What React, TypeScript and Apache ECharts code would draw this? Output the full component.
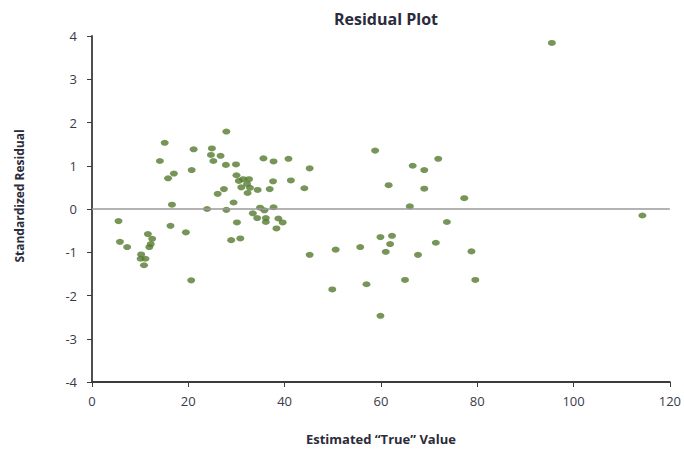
import React, { useEffect, useRef } from "react";
import * as echarts from "echarts";

const estimatedValues: number[] = [
  5.5, 5.8, 7.3, 10.2, 10.1, 11.1, 10.8, 11.6, 12.5, 12.2, 11.9, 14.1, 15.1, 15.8, 17.0, 16.6, 16.3, 19.5, 20.6, 20.7,
  21.1, 23.9, 24.9, 24.7, 26.7, 25.2, 27.9, 27.8, 29.9, 26.1, 27.4, 27.9, 29.4, 30.0, 30.5, 31.4, 32.6, 31.0, 32.2, 32.8,
  32.3, 34.4, 36.9, 37.6, 41.3, 35.6, 37.7, 40.8, 34.9, 35.8, 37.7, 33.4, 34.3, 36.1, 36.1, 38.7, 39.6, 38.3, 30.1, 28.9,
  30.8, 44.1, 45.2, 45.2, 50.6, 49.9, 55.7, 57.0, 58.8, 59.9, 62.3, 61.9, 61.0, 59.9, 61.6, 65.0, 66.0, 66.6, 69.0, 69.0,
  67.7, 71.9, 71.4, 73.7, 77.3, 78.8, 79.6, 95.5, 114.3,
];

const standardizedResiduals: number[] = [
  -0.28, -0.76, -0.88, -1.05, -1.15, -1.15, -1.3, -0.58, -0.69, -0.81, -0.88, 1.11, 1.53, 0.71, 0.82, 0.1, -0.39, -0.54, -1.65, 0.9,
  1.38, 0.0, 1.4, 1.25, 1.23, 1.11, 1.79, 1.02, 1.03, 0.35, 0.46, -0.02, 0.15, 0.78, 0.65, 0.69, 0.69, 0.5, 0.58, 0.49,
  0.37, 0.44, 0.46, 0.64, 0.66, 1.17, 1.1, 1.16, 0.03, -0.03, 0.04, -0.1, -0.21, -0.21, -0.3, -0.22, -0.31, -0.45, -0.31, -0.72,
  -0.68, 0.48, 0.94, -1.06, -0.94, -1.86, -0.88, -1.74, 1.35, -0.65, -0.62, -0.81, -0.99, -2.47, 0.55, -1.64, 0.06, 1.0, 0.9, 0.47,
  -1.06, 1.16, -0.78, -0.3, 0.25, -0.98, -1.64, 3.84, -0.15,
];

const titleText = "Residual Plot";
const xAxisTitle = "Estimated \u201CTrue\u201D Value";
const yAxisTitle = "Standardized Residual";

export default function App() {
  const ref = useRef<HTMLDivElement>(null);

  useEffect(() => {
    if (!ref.current) return;
    const chart = echarts.init(ref.current, undefined, { renderer: "svg" });
    const points = estimatedValues.map((x, i) => [x, standardizedResiduals[i]]);
    const font = "'Open Sans', 'Noto Sans', sans-serif";
    const axisColor = "#3c3c3c";
    chart.setOption({
      animation: false,
      backgroundColor: "#ffffff",
      title: {
        text: titleText,
        left: 381,
        top: 6,
        textAlign: "center",
        textStyle: { fontFamily: font, fontSize: 16, fontWeight: "bold", color: "#2b2b3a" },
      },
      grid: { left: 92, right: 12, top: 36, bottom: 63, containLabel: false },
      xAxis: {
        type: "value",
        min: 0,
        max: 120,
        interval: 20,
        name: xAxisTitle,
        nameLocation: "middle",
        nameGap: 50,
        nameTextStyle: { fontFamily: font, fontSize: 13, fontWeight: "bold", color: "#2b2b3a" },
        axisLine: { show: true, onZero: false, lineStyle: { color: axisColor, width: 1.8 } },
        axisTick: { show: true, inside: false, length: 5, lineStyle: { color: axisColor } },
        axisLabel: { margin: 12, fontFamily: font, fontSize: 13, color: "#3a3a4a" },
        splitLine: { show: false },
      },
      yAxis: {
        type: "value",
        min: -4,
        max: 4,
        interval: 1,
        axisLine: { show: true, onZero: false, lineStyle: { color: axisColor, width: 1.8 } },
        axisTick: { show: true, inside: false, length: 5, lineStyle: { color: axisColor } },
        axisLabel: { margin: 15, fontFamily: font, fontSize: 13, color: "#3a3a4a" },
        splitLine: { show: false },
      },
      graphic: [
        {
          type: "text",
          x: 19,
          y: 196,
          rotation: Math.PI / 2,
          style: {
            text: yAxisTitle,
            fontFamily: font,
            fontSize: 12,
            fontWeight: "bold",
            fill: "#2b2b3a",
            align: "center",
            verticalAlign: "middle",
          },
        },
      ],
      series: [
        {
          type: "scatter",
          data: points,
          symbol: "circle",
          symbolSize: [8, 6],
          itemStyle: { color: "#557a2f" },
          markLine: {
            silent: true,
            symbol: "none",
            label: { show: false },
            lineStyle: { color: "#9a9a9a", width: 1.5, type: "solid" },
            data: [{ yAxis: 0 }],
          },
        },
      ],
    });
    return () => chart.dispose();
  }, []);

  return (
    <div
      ref={ref}
      style={{ position: "fixed", left: 0, top: 0, width: 684, height: 450, background: "#fff" }}
    />
  );
}
